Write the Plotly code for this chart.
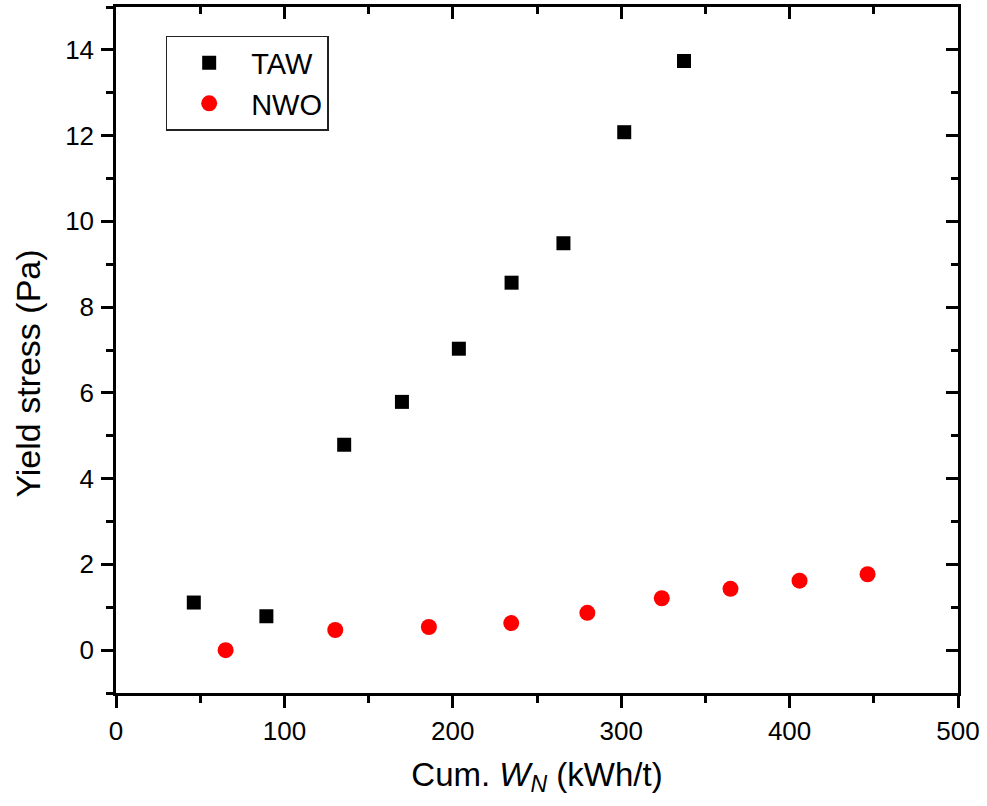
import plotly.graph_objects as go

# Cumulative specific energy (kWh/t) and measured yield stress (Pa)
taw_energy = [46.2, 89.3, 135.5, 169.8, 203.6, 234.9, 265.7, 301.8, 337.3]
taw_stress = [1.11, 0.79, 4.79, 5.79, 7.03, 8.57, 9.49, 12.08, 13.74]

nwo_energy = [65.1, 130.2, 185.8, 234.7, 279.9, 324.1, 364.9, 405.9, 446.3]
nwo_stress = [0.0, 0.47, 0.54, 0.63, 0.87, 1.21, 1.43, 1.62, 1.77]

x_range = [0, 500]
y_range = [-1, 15]

FONT = "Liberation Sans, Arial, sans-serif"
AXIS_W = 2.5

fig = go.Figure()
fig.add_trace(go.Scatter(
    x=taw_energy, y=taw_stress, mode="markers", name="TAW",
    marker=dict(symbol="square", size=14, color="black", line=dict(width=0)),
))
fig.add_trace(go.Scatter(
    x=nwo_energy, y=nwo_stress, mode="markers", name="NWO",
    marker=dict(symbol="circle", size=16, color="#ff0000", line=dict(width=0)),
))
# invisible trace so the mirrored top/right axes get drawn
fig.add_trace(go.Scatter(
    x=x_range, y=y_range, xaxis="x2", yaxis="y2", mode="markers",
    marker=dict(opacity=0), showlegend=False, hoverinfo="skip",
))

common = dict(
    showline=True, linecolor="black", linewidth=AXIS_W, showgrid=False,
    zeroline=False, tickcolor="black", tickwidth=AXIS_W,
)

fig.update_layout(
    width=987, height=806,
    margin=dict(l=116, r=26, t=7, b=113),
    paper_bgcolor="white", plot_bgcolor="white",
    font=dict(family=FONT, color="black"),
    showlegend=True,
    legend=dict(
        x=0.059, y=0.958, xanchor="left", yanchor="top",
        bordercolor="#222222", borderwidth=1.5, bgcolor="white",
        font=dict(size=29, family=FONT), itemwidth=74,
        tracegroupgap=0,
    ),
    xaxis=dict(
        **common, range=x_range, tick0=0, dtick=100, ticks="outside", ticklen=12,
        tickfont=dict(size=26), ticklabelstandoff=1,
        minor=dict(ticks="outside", dtick=50, ticklen=7, tickwidth=AXIS_W, tickcolor="black"),
        title=dict(text="Cum. <i>W</i><sub><i>N</i></sub> (kWh/t)", font=dict(size=33), standoff=18),
    ),
    yaxis=dict(
        **common, range=y_range, tick0=0, dtick=2, ticks="outside", ticklen=12,
        tickfont=dict(size=26), ticklabelstandoff=2,
        minor=dict(ticks="outside", dtick=1, ticklen=7, tickwidth=AXIS_W, tickcolor="black"),
    ),
    xaxis2=dict(
        **common, range=x_range, overlaying="x", side="top", anchor="y2",
        tick0=0, dtick=100, ticks="inside", ticklen=12, showticklabels=False,
        minor=dict(ticks="inside", dtick=50, ticklen=7, tickwidth=AXIS_W, tickcolor="black"),
    ),
    yaxis2=dict(
        **common, range=y_range, overlaying="y", side="right", anchor="x2",
        tick0=0, dtick=2, ticks="inside", ticklen=12, showticklabels=False,
        minor=dict(ticks="inside", dtick=1, ticklen=7, tickwidth=AXIS_W, tickcolor="black"),
    ),
    annotations=[dict(
        text="Yield stress (Pa)", textangle=-90, showarrow=False,
        xref="paper", yref="paper", x=-0.105, y=0.465,
        xanchor="center", yanchor="middle", font=dict(size=34, family=FONT),
    )],
)

fig.write_html("out.html")
